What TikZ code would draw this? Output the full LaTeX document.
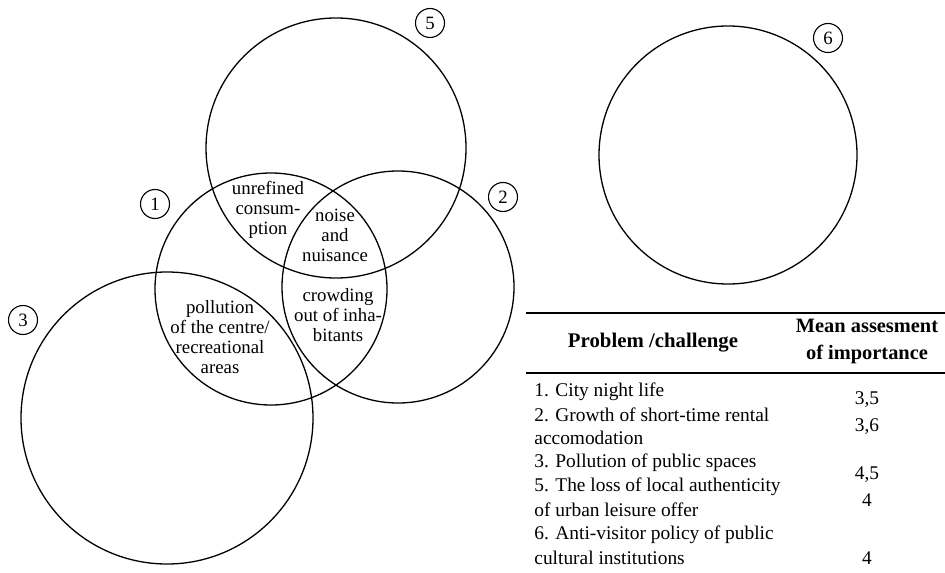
\documentclass[tikz,border=0pt]{standalone}
\usepackage{fontspec}
\setmainfont{Liberation Serif}
\begin{document}
\begin{tikzpicture}[x=0.5pt,y=-0.5pt,
    every node/.style={font=\fontsize{9.4}{10}\selectfont},
    ring/.style={line width=0.65pt},
    numlbl/.style={draw,circle,line width=0.55pt,minimum size=14.5pt,inner sep=0pt},
    overlap/.style={align=center},
    cell/.style={anchor=west,inner sep=0pt,font=\fontsize{9.7}{10}\selectfont},
    score/.style={inner sep=0pt,font=\fontsize{9.7}{10}\selectfont},
    rule/.style={line width=0.7pt}]
    \useasboundingbox (0,0) rectangle (945,572);
    % circles
    \coordinate (c1) at (271,289);
    \coordinate (c2) at (398,287);
    \coordinate (c3) at (167,418);
    \coordinate (c5) at (336,148);
    \coordinate (c6) at (728,155);
    \draw[ring] (c1) circle (116);
    \draw[ring] (c2) circle (116);
    \draw[ring] (c3) circle (146);
    \draw[ring] (c5) circle (130);
    \draw[ring] (c6) circle (129);

    % numbers
    \node[numlbl] (n1) at (155,204) {1};
    \node[numlbl] (n2) at (503,197) {2};
    \node[numlbl] (n3) at (23,320) {3};
    \node[numlbl] (n5) at (430,23) {5};
    \node[numlbl] (n6) at (828,38) {6};

    % overlaps
    \node[overlap] (unref) at (268,210) {unrefined\\consum-\\ption};
    \node[overlap] (noise) at (335,235) {noise\\and\\nuisance};
    \node[overlap] (crowd) at (338,315) {crowding\\out of inha-\\bitants};
    \node[overlap] (pollu) at (220,337) {pollution\\of the centre/\\recreational\\areas};

    % table
    \draw[rule] (526,313) -- (945,313);
    \draw[rule] (526,373) -- (945,373);
    \node[font=\fontsize{10.4}{10}\selectfont\bfseries] (hprob) at (653,343) {Problem /challenge};
    \node[font=\fontsize{10.2}{13.5}\selectfont\bfseries,align=center] (hmean) at (867,341) {Mean assesment\\of importance};

    \node[cell] (r1) at (534,392) {1. City night life};
    \node[cell] (r2) at (534,415) {2. Growth of short-time rental};
    \node[cell] (r2b) at (534,438) {accomodation};
    \node[cell] (r3) at (534,463) {3. Pollution of public spaces};
    \node[cell] (r5) at (534,487) {5. The loss of local authenticity};
    \node[cell] (r5b) at (534,510) {of urban leisure offer};
    \node[cell] (r6) at (534,535) {6. Anti-visitor policy of public};
    \node[cell] (r6b) at (534,558) {cultural institutions};

    \node[score] (s1) at (867,400) {3,5};
    \node[score] (s2) at (867,427) {3,6};
    \node[score] (s5) at (867,475) {4,5};
    \node[score] (s5b) at (867,500) {4};
    \node[score] (s6) at (867,558) {4};
\end{tikzpicture}
\end{document}
